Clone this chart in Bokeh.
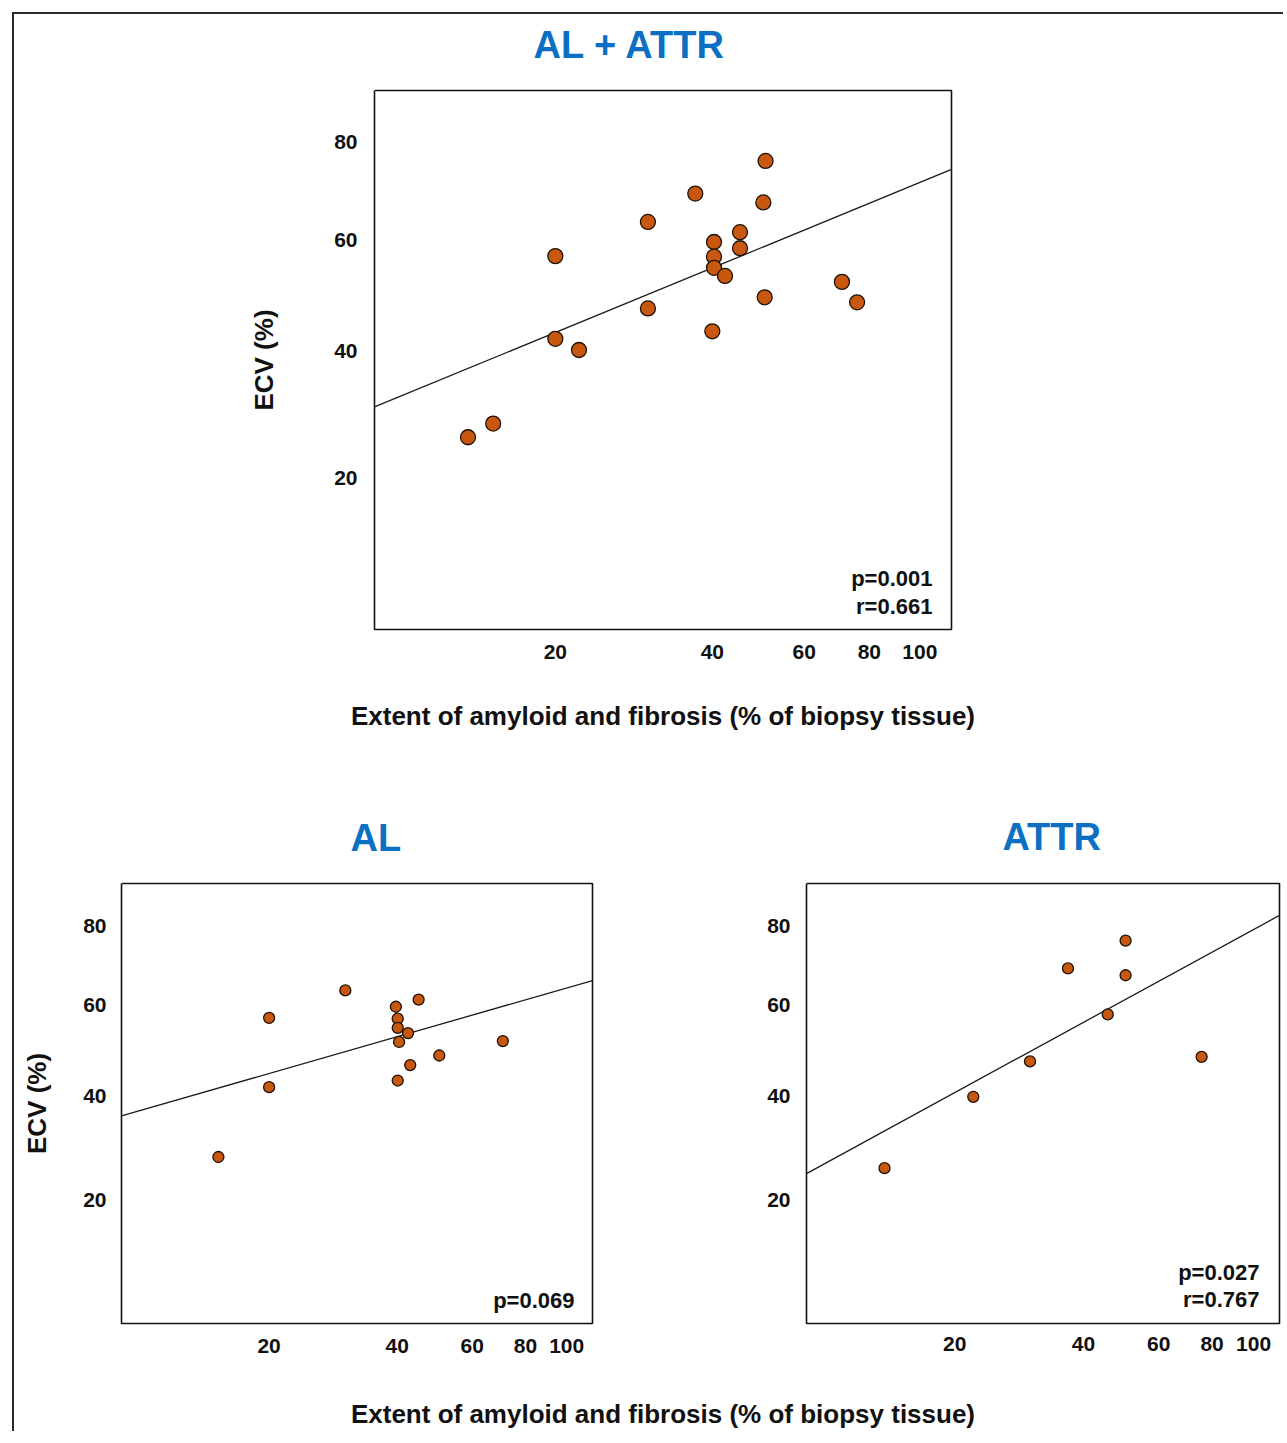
from bokeh.plotting import figure
from bokeh.models import Range1d, FixedTicker, CustomJSTickFormatter, Label, LinearAxis
from bokeh.layouts import column, row
from bokeh.embed import file_html
from bokeh.resources import INLINE
from bokeh.core.validation import silence
from bokeh.core.validation.warnings import MISSING_RENDERERS

silence(MISSING_RENDERERS, True)

# ---------------- data ----------------
# AL + ATTR (all patients)
all_extent = [13.6, 15.2, 20.0, 20.0, 22.2, 30.1, 30.1, 37.1, 40.0, 40.3,
              40.3, 40.3, 42.3, 45.2, 45.2, 50.1, 50.6, 50.4, 70.9, 75.8]
all_ecv = [26.1, 28.2, 56.9, 42.0, 40.1, 63.5, 47.3, 69.2, 43.3, 59.6,
           56.8, 54.7, 53.2, 61.5, 58.4, 67.4, 76.0, 49.3, 52.1, 48.4]

# AL
al_extent = [15.2, 20.0, 20.0, 30.2, 39.7, 40.1, 40.1, 40.4, 40.1, 42.4,
             42.9, 44.9, 50.2, 70.8]
al_ecv = [27.9, 57.1, 41.8, 63.6, 59.7, 56.9, 54.8, 51.6, 43.2, 53.6,
          46.5, 61.4, 48.6, 51.8]

# ATTR
attr_extent = [13.7, 22.1, 30.0, 36.8, 45.6, 50.2, 50.2, 75.6]
attr_ecv = [25.8, 39.8, 47.3, 69.0, 57.9, 76.1, 67.3, 48.3]

# regression lines (value at each end of the extent axis)
fit_extent = [9, 115]
all_fit_ecv = [30.8, 74.2]
al_fit_ecv = [35.9, 66.0]
attr_fit_ecv = [24.8, 82.8]

x_ticks = [20, 40, 60, 80, 100]
y_ticks = [20, 40, 60, 80]

all_stats = ["p=0.001", "r=0.661"]
al_stats = ["p=0.069"]
attr_stats = ["p=0.027", "r=0.767"]

titles = ["AL + ATTR", "AL", "ATTR"]
x_title = "Extent of amyloid and fibrosis (% of biopsy tissue)"
y_title = "ECV (%)"

X_RANGE = (9, 115)
ECV_RANGE = (0, 91.6)
ECV_OFFSET = 100  # the ECV axis of the original is spaced like log(ECV + 100)

# ---------------- styles ----------------
FONT = "Liberation Sans"
BLUE = "#0b6fc4"
FILL = "#c8570f"
EDGE = "#1c1208"
INK = "#111111"


def shifted(vals):
    return [v + ECV_OFFSET for v in vals]


def style_axis_text(ax):
    ax.axis_line_color = None
    ax.major_tick_line_color = None
    ax.minor_tick_line_color = None
    ax.major_tick_in = 0
    ax.major_tick_out = 0
    ax.minor_tick_in = 0
    ax.minor_tick_out = 0
    ax.major_label_text_font = FONT
    ax.major_label_text_font_style = "bold"
    ax.major_label_text_font_size = "21px"
    ax.major_label_text_color = INK
    ax.axis_label_text_font = FONT
    ax.axis_label_text_font_style = "bold"
    ax.axis_label_text_font_size = "26px"
    ax.axis_label_text_color = INK


def set_title(p, text, offset, gap):
    """Title whose text bottom sits about `gap` px above the frame.

    A blank 'above' axis (one white, label-less tick) reserves the space
    between the frame and the title."""
    stand = 6
    spacer = LinearAxis(ticker=FixedTicker(ticks=[X_RANGE[0]]),
                        formatter=CustomJSTickFormatter(code="return '';"),
                        axis_line_color=None,
                        major_tick_line_color="white", major_tick_line_width=1,
                        minor_tick_line_color=None,
                        major_tick_in=0, major_tick_out=gap - stand // 2,
                        minor_tick_in=0, minor_tick_out=0,
                        major_label_standoff=0,
                        major_label_text_font_size="0px")
    p.add_layout(spacer, "above")
    p.title.text = text
    p.title.align = "left"
    p.title.vertical_align = "bottom"
    p.title.offset = offset
    if "standoff" in p.title.properties():
        p.title.standoff = stand
    p.title.text_font = FONT
    p.title.text_font_style = "bold"
    p.title.text_font_size = "38px"
    p.title.text_color = BLUE


def make_panel(width, height, bl, br, bt, bb, xs, ys, fit_y, msize,
               y_standoff, x_standoff):
    p = figure(width=width, height=height,
               x_axis_type="log", y_axis_type="log",
               x_range=Range1d(*X_RANGE),
               y_range=Range1d(ECV_RANGE[0] + ECV_OFFSET, ECV_RANGE[1] + ECV_OFFSET),
               toolbar_location=None, output_backend="svg",
               min_border_left=bl, min_border_right=br,
               min_border_top=bt, min_border_bottom=bb)
    p.grid.visible = False
    p.outline_line_color = INK
    p.outline_line_width = 1.6
    p.background_fill_color = "white"
    p.border_fill_color = "white"

    p.xaxis.ticker = FixedTicker(ticks=x_ticks)
    p.xaxis.formatter = CustomJSTickFormatter(code="return tick.toFixed(0);")
    p.yaxis.ticker = FixedTicker(ticks=shifted(y_ticks))
    p.yaxis.formatter = CustomJSTickFormatter(args=dict(off=ECV_OFFSET),
                                              code="return (tick - off).toFixed(0);")
    for ax in (p.xaxis[0], p.yaxis[0]):
        style_axis_text(ax)
    p.yaxis.major_label_standoff = y_standoff
    p.xaxis.major_label_standoff = x_standoff
    p.yaxis.major_label_orientation = "horizontal"

    p.line(fit_extent, shifted(fit_y), line_color="#1a1a1a", line_width=1.3)
    p.scatter(xs, shifted(ys), size=msize, fill_color=FILL,
              line_color=EDGE, line_width=1.3)
    return p


def stat(p, x, y, text):
    p.add_layout(Label(x=x, y=y, x_units="screen", y_units="screen", text=text,
                       text_font=FONT, text_font_style="bold",
                       text_font_size="22px", text_color=INK,
                       text_align="right", text_baseline="middle"))


# ---------------- top panel: AL + ATTR ----------------
top = make_panel(1269, 756, 360, 332, 76, 141, all_extent, all_ecv,
                 all_fit_ecv, 15, 17, 15)
top.yaxis.axis_label = y_title
top.yaxis.axis_label_standoff = 52
top.xaxis.axis_label = x_title
top.xaxis.axis_label_standoff = 39
set_title(top, titles[0], 159, 25)
stat(top, 558, 51, all_stats[0])
stat(top, 558, 23, all_stats[1])

# ---------------- bottom left: AL ----------------
al = make_panel(686, 605, 107, 108, 113, 48, al_extent, al_ecv,
                al_fit_ecv, 11, 15, 15)
al.yaxis.axis_label = y_title
al.yaxis.axis_label_standoff = 28
set_title(al, titles[1], 229, 25)
stat(al, 453, 23, al_stats[0])

# ---------------- bottom right: ATTR ----------------
attr = make_panel(583, 605, 106, 4, 110, 52, attr_extent, attr_ecv,
                  attr_fit_ecv, 11, 16, 13)
set_title(attr, titles[2], 196, 26)
stat(attr, 453, 51, attr_stats[0])
stat(attr, 453, 24, attr_stats[1])

# ---------------- shared caption (an axis title of its own) ----------------
cap = figure(width=1269, height=56, x_range=Range1d(0, 1), y_range=Range1d(0, 1),
             toolbar_location=None, output_backend="svg",
             min_border_left=360, min_border_right=332,
             min_border_top=0, min_border_bottom=44)
cap.yaxis.visible = False
cap.grid.visible = False
cap.outline_line_color = None
cap.xaxis.ticker = FixedTicker(ticks=[])
style_axis_text(cap.xaxis[0])
cap.xaxis.major_label_standoff = 0
cap.xaxis.axis_label = x_title
cap.xaxis.axis_label_standoff = 15

root = column(top, row(al, attr), cap, margin=(12, 0, 0, 12),
              styles={"border-left": "2px solid #2a2a2a",
                      "border-top": "2px solid #2a2a2a"})

open("out.html", "w").write(file_html(root, INLINE))
